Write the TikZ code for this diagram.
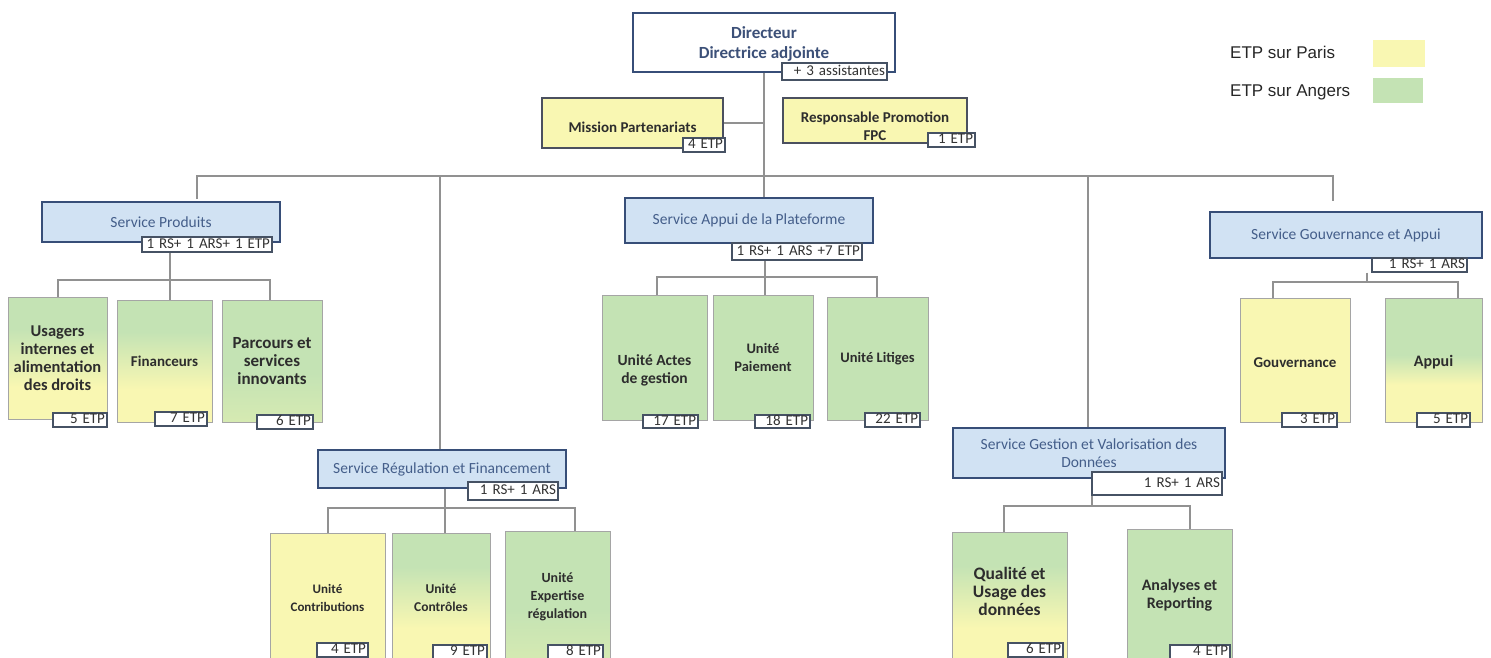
\documentclass[tikz,border=0pt]{standalone}
\usepackage{fontspec}
\setmainfont{Carlito}
\newfontfamily\legfont{Liberation Sans}
\usetikzlibrary{backgrounds}
\definecolor{yel}{RGB}{249,247,178}
\definecolor{grn}{RGB}{196,227,180}
\definecolor{grnyel}{RGB}{214,234,178}
\definecolor{svcfill}{RGB}{209,226,243}
\definecolor{svcborder}{RGB}{55,78,120}
\definecolor{svctext}{RGB}{68,94,138}
\definecolor{dirtext}{RGB}{60,80,120}
\definecolor{linegray}{RGB}{145,145,145}
\definecolor{unitborder}{RGB}{165,165,165}
\definecolor{etpborder}{RGB}{70,82,100}
\definecolor{midborder}{RGB}{75,80,95}
\definecolor{unittext}{RGB}{45,45,45}
\pgfdeclareverticalshading{gyhalf}{100bp}{color(0bp)=(yel); color(25bp)=(yel); color(40bp)=(yel); color(52bp)=(grn); color(100bp)=(grn)}
\pgfdeclareverticalshading{gygrad}{100bp}{color(0bp)=(yel); color(25bp)=(yel); color(38bp)=(yel); color(62bp)=(grn); color(100bp)=(grn)}
\pgfdeclareverticalshading{gylight}{100bp}{color(0bp)=(grnyel); color(25bp)=(grnyel); color(45bp)=(grn); color(100bp)=(grn)}
\newcommand{\fs}[1]{\fontsize{#1}{18}\selectfont\bfseries}
\tikzset{
  conn/.style={draw=linegray, line width=1.2pt},
  sz/.style 2 args={minimum width=#1pt, minimum height=#2pt},
  topbox/.style={draw=svcborder, line width=1.8pt, fill=white, text=dirtext, font=\fontsize{17}{20}\selectfont\bfseries, align=center, inner sep=0pt},
  midbox/.style={draw=midborder, line width=1.8pt, fill=yel, text=unittext, font=\fontsize{15}{18}\selectfont\bfseries, align=center, inner sep=0pt},
  svc/.style={draw=svcborder, line width=2pt, fill=svcfill, text=svctext, font=\fontsize{15.5}{18}\selectfont, align=center, inner sep=0pt},
  unitbox/.style={draw=unitborder, line width=0.8pt, text=unittext, font=\fs{15}, align=center, inner sep=0pt},
  etp/.style={draw=etpborder, line width=1.2pt, fill=white, text=black!80, font=\fontsize{15}{15}\selectfont, align=right, inner xsep=2pt, inner ysep=0pt, text height=10pt, text depth=2.5pt},
  leg/.style={font=\legfont\fontsize{17}{18}\selectfont, text=black!85, anchor=west, inner sep=0pt},
  swatch/.style={inner sep=0pt}
}
\begin{document}
\begin{tikzpicture}[x=1pt,y=-1pt]
\useasboundingbox (0,0) rectangle (1491,658);

% top
\node[topbox, sz={262}{59}] (dir) at (764,42.5) {\rule{0pt}{14pt}Directeur\\Directrice adjointe};
\node[etp, text width=101pt, minimum height=17pt] (dirsub) at (834.5,71.5) {+ 3 assistantes};
\node[midbox, sz={181}{50}] (mission) at (632.5,123) {\rule{0pt}{19pt}Mission Partenariats};
\node[etp, text width=38pt, minimum height=14pt] (missionsub) at (704,145) {4 ETP};
\node[midbox, sz={184}{45}] (resp) at (875,120.5) {\rule{0pt}{22pt}Responsable Promotion\\FPC};
\node[etp, text width=43pt, minimum height=14pt] (respsub) at (951.5,140) {1 ETP};

% legend
\node[leg] (legP) at (1230,52) {ETP sur Paris};
\node[swatch, fill=yel, sz={52}{27}] (swP) at (1399,53.5) {};
\node[leg] (legA) at (1230,92) {ETP sur Angers};
\node[swatch, fill=grn, sz={50}{25}] (swA) at (1398,90.5) {};

% services
\node[svc, sz={238}{40}] (sp) at (161,222) {Service Produits};
\node[etp, text width=126pt, minimum height=15pt] (sps) at (207,244.5) {1 RS+ 1 ARS+ 1 ETP};
\node[svc, sz={248}{45}] (sa) at (749,220.5) {Service Appui de la Plateforme};
\node[etp, text width=126pt, minimum height=17pt] (sas) at (797,251.5) {1 RS+ 1 ARS +7 ETP};
\node[svc, sz={272}{46}] (sg) at (1346,235) {Service Gouvernance et Appui};
\node[etp, text width=91pt, minimum height=14pt] (sgs) at (1419.5,265) {1 RS+ 1 ARS};
\node[svc, sz={248}{38}] (sr) at (442,469) {Service Régulation et Financement};
\node[etp, text width=86pt, minimum height=18pt] (srs) at (513,491) {1 RS+ 1 ARS};
\node[svc, sz={272}{50}] (sd) at (1089,453) {Service Gestion et Valorisation des\\Données};
\node[etp, text width=126pt, minimum height=23pt] (sds) at (1157,483.5) {1 RS+ 1 ARS};

% units: Service Produits
\node[unitbox, shading=gygrad, sz={99}{122}, font=\fs{16.5}] (u1) at (57.5,358) {Usagers\\internes et\\alimentation\\des droits};
\node[etp, text width=50pt, minimum height=14pt] (u1s) at (80,420) {5 ETP};
\node[unitbox, shading=gygrad, sz={95}{122}] (u2) at (164.5,361) {Financeurs};
\node[etp, text width=48pt, minimum height=14pt] (u2s) at (181,419) {7 ETP};
\node[unitbox, shading=gylight, sz={100}{122}, font=\fs{17}] (u3) at (272,361) {Parcours et\\services\\innovants};
\node[etp, text width=52pt, minimum height=14pt] (u3s) at (285,422) {6 ETP};

% units: Service Appui
\node[unitbox, fill=grn, sz={105}{125}, font=\fs{15.5}] (a1) at (654.5,357.5) {\rule{0pt}{37pt}Unité Actes\\de gestion};
\node[etp, text width=51pt, minimum height=13pt] (a1s) at (670.5,421.5) {17 ETP};
\node[unitbox, fill=grn, sz={100}{125}, font=\fs{14.5}] (a2) at (763,357.5) {Unité\\Paiement};
\node[etp, text width=51pt, minimum height=13pt] (a2s) at (782.5,421.5) {18 ETP};
\node[unitbox, fill=grn, sz={101}{123}, font=\fs{14.5}] (a3) at (877.5,358.5) {Unité Litiges};
\node[etp, text width=51pt, minimum height=14pt] (a3s) at (892.5,420) {22 ETP};

% units: Gouvernance
\node[unitbox, fill=yel, sz={110}{124}] (g1) at (1295,360) {\rule{0pt}{16pt}Gouvernance};
\node[etp, text width=51pt, minimum height=14pt] (g1s) at (1309.5,420) {3 ETP};
\node[unitbox, shading=gyhalf, sz={97}{124}, font=\fs{16}] (g2) at (1433.5,360) {\rule{0pt}{16pt}Appui};
\node[etp, text width=49pt, minimum height=14pt] (g2s) at (1443.5,420) {5 ETP};

% units: Regulation
\node[unitbox, fill=yel, sz={115}{129}, font=\fs{13}] (r1) at (327.5,597.5) {Unité\\Contributions};
\node[etp, text width=47pt, minimum height=14pt] (r1s) at (342.5,650) {4 ETP};
\node[unitbox, shading=gygrad, sz={98}{129}, font=\fs{13.5}] (r2) at (441,597.5) {Unité\\Contrôles};
\node[etp, text width=50pt, minimum height=14pt] (r2s) at (460,652) {9 ETP};
\node[unitbox, shading=gylight, sz={105}{131}, font=\fs{14}] (r3) at (557.5,596.5) {Unité\\Expertise\\régulation};
\node[etp, text width=51pt, minimum height=14pt] (r3s) at (575.5,652) {8 ETP};

% units: Gestion
\node[unitbox, shading=gygrad, sz={115}{130}, font=\fs{17.5}] (d1) at (1009.5,597) {Qualité et\\Usage des\\données\rule[-11pt]{0pt}{0pt}};
\node[etp, text width=51pt, minimum height=14pt] (d1s) at (1035.5,650) {6 ETP};
\node[unitbox, fill=grn, sz={105}{133}, font=\fs{16}] (d2) at (1179.5,595.5) {Analyses et\\Reporting};
\node[etp, text width=56pt, minimum height=14pt] (d2s) at (1200,652) {4 ETP};

% junction coordinates
\coordinate (busL) at (197,176);
\coordinate (busR) at (1333,176);
\coordinate (busA) at (440,176);
\coordinate (busB) at (1088,176);
\coordinate (spJ) at (170,280); \coordinate (spL) at (58,280); \coordinate (spR) at (270,280);
\coordinate (saJ) at (765,277); \coordinate (saL) at (657,277); \coordinate (saR) at (877,277);
\coordinate (sgJ) at (1367,282); \coordinate (sgL) at (1273,282); \coordinate (sgR) at (1458,282);
\coordinate (srJ) at (445,508); \coordinate (srL) at (328,508); \coordinate (srR) at (575,508);
\coordinate (sdJ) at (1092,506); \coordinate (sdL) at (1004,506); \coordinate (sdR) at (1190,506);

\begin{scope}[on background layer]
\draw[conn] (dir.south) -- (dir.south |- sa.north);
\draw[conn] (mission.east) -- (mission.east -| dir.south);
\draw[conn] ([yshift=2pt]busL |- sp.north) -- (busL) -- (busR) -- ([yshift=10pt]busR |- sg.north);
\draw[conn] (busA) -- (busA |- sr.north);
\draw[conn] (busB) -- (busB |- sd.north);
% produits
\draw[conn] (spJ |- sps.south) -- (spJ) -- (spJ |- u2.north);
\draw[conn] (spL |- u1.north) -- (spL) -- (spR) -- (spR |- u3.north);
% appui
\draw[conn] (saJ |- sas.south) -- (saJ) -- (saJ |- a2.north);
\draw[conn] (saL |- a1.north) -- (saL) -- (saR) -- (saR |- a3.north);
% gouvernance
\draw[conn] (sgJ |- sgs.south) -- (sgJ);
\draw[conn] (sgL |- g1.north) -- (sgL) -- (sgR) -- (sgR |- g2.north);
% regulation
\draw[conn] (srJ |- sr.south) -- (srJ) -- (srJ |- r2.north);
\draw[conn] (srL |- r1.north) -- (srL) -- (srR) -- (srR |- r3.north);
% gestion
\draw[conn] (sdJ |- sds.south) -- (sdJ);
\draw[conn] (sdL |- d1.north) -- (sdL) -- (sdR) -- (sdR |- d2.north);
\end{scope}
\end{tikzpicture}
\end{document}
